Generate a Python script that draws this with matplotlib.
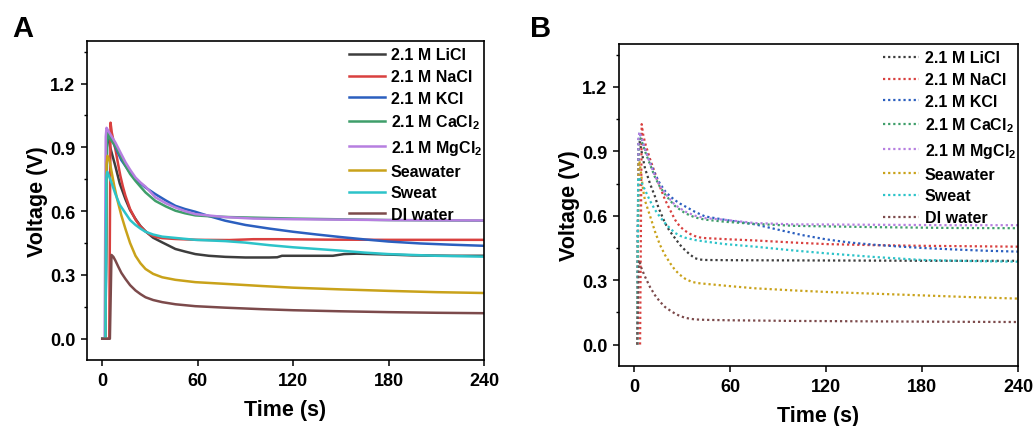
"""
Voltage decay curves for different electrolytes: panel A (measured, solid)
and panel B (fitted/simulated, dotted). Saves out.png.
"""

import matplotlib.pyplot as plt
from matplotlib.ticker import MultipleLocator, AutoMinorLocator

plt.rcParams["font.family"] = ["Liberation Sans", "DejaVu Sans"]
plt.rcParams["font.weight"] = "bold"
plt.rcParams["mathtext.fontset"] = "custom"
plt.rcParams["mathtext.rm"] = "Liberation Sans:bold"
plt.rcParams["mathtext.bf"] = "Liberation Sans:bold"
plt.rcParams["mathtext.it"] = "Liberation Sans:bold"

labels = ["2.1 M LiCl", "2.1 M NaCl", "2.1 M KCl", r"2.1 M CaCl$_{2}$",
          r"2.1 M MgCl$_{2}$", "Seawater", "Sweat", "DI water"]
colors = ["#3d3d3d", "#d9403f", "#2b5fbf", "#3f9e6a",
          "#b67fe0", "#c9a21a", "#2cc3c9", "#7c4a4b"]

# ---- panel A (measured) ----
a_lic_t = [0, 2, 2.8, 3.5, 5, 8.3, 11, 14.6, 17.5, 20.9, 24, 27.2, 32, 37.7, 42, 46, 52, 58.5, 67, 77.3,
           90, 105, 110, 113, 130, 145, 152, 160, 175, 195, 220, 240]
a_lic_v = [0, 0, 0.92, 0.96, 0.9, 0.81, 0.73, 0.656, 0.605, 0.563, 0.53, 0.505, 0.475, 0.453, 0.437, 0.422,
           0.41, 0.398, 0.39, 0.385, 0.382, 0.382, 0.383, 0.39, 0.39, 0.39, 0.398, 0.40, 0.397, 0.392, 0.39, 0.39]
a_nac_t = [0, 4.4, 5.2, 6, 7.3, 8.3, 10, 11.4, 13, 14.6, 17.5, 20.9, 24, 27.2, 30, 33.4, 37.7, 46, 60, 80,
           95, 110, 140, 180, 240]
a_nac_v = [0, 0, 1.016, 0.97, 0.922, 0.89, 0.82, 0.766, 0.715, 0.672, 0.61, 0.56, 0.528, 0.505, 0.49, 0.479,
           0.473, 0.469, 0.465, 0.464, 0.468, 0.468, 0.466, 0.465, 0.465]
a_kcl_t = [0, 2, 3, 3.6, 5, 8.3, 12, 16.7, 21, 27.2, 33.4, 40, 46, 52, 58.5, 67, 77.3, 90, 105, 120, 135,
           150, 165, 180, 200, 220, 240]
a_kcl_v = [0, 0, 0.92, 0.97, 0.95, 0.9, 0.84, 0.789, 0.75, 0.711, 0.68, 0.65, 0.625, 0.61, 0.597, 0.577,
           0.555, 0.535, 0.518, 0.503, 0.49, 0.478, 0.467, 0.457, 0.448, 0.442, 0.437]
a_cac_t = [0, 2, 3, 3.6, 5, 8.3, 11.5, 14.6, 17.5, 20.9, 24, 27.2, 33.4, 40, 46, 52, 58.5, 67, 80, 120,
           180, 240]
a_cac_v = [0, 0, 0.92, 0.965, 0.94, 0.906, 0.86, 0.813, 0.775, 0.742, 0.715, 0.688, 0.648, 0.622, 0.602,
           0.59, 0.58, 0.576, 0.572, 0.565, 0.558, 0.555]
a_mgc_t = [0, 1.5, 2.2, 2.7, 4, 6, 8.3, 11.5, 14.6, 17.5, 20.9, 24, 27.2, 33.4, 40, 46, 52, 58.5, 69, 77.3,
           95, 120, 150, 180, 210, 240]
a_mgc_v = [0, 0, 0.95, 0.992, 0.975, 0.95, 0.922, 0.875, 0.83, 0.795, 0.758, 0.735, 0.715, 0.665, 0.637,
           0.617, 0.6, 0.586, 0.578, 0.572, 0.565, 0.562, 0.56, 0.558, 0.557, 0.556]
a_sea_t = [0, 2, 2.7, 3.3, 4.5, 6, 7.5, 9.4, 12, 14.6, 17.5, 20.9, 24, 27.2, 32, 37.7, 46, 58.5, 77.3, 100,
           120, 150, 180, 210, 240]
a_sea_v = [0, 0, 0.82, 0.86, 0.84, 0.78, 0.72, 0.656, 0.58, 0.516, 0.45, 0.39, 0.355, 0.328, 0.305, 0.289,
           0.277, 0.266, 0.258, 0.248, 0.24, 0.232, 0.225, 0.219, 0.215]
a_swe_t = [0, 2, 2.6, 3.2, 4.5, 6, 8.3, 11, 14.6, 17.5, 20.9, 24, 27.2, 32, 37.7, 46, 58.5, 77.3, 90, 105,
           120, 135, 150, 165, 180, 210, 240]
a_swe_v = [0, 0, 0.76, 0.785, 0.76, 0.73, 0.68, 0.63, 0.59, 0.558, 0.535, 0.518, 0.503, 0.49, 0.48, 0.474,
           0.465, 0.459, 0.452, 0.44, 0.43, 0.422, 0.414, 0.405, 0.398, 0.39, 0.386]
a_diw_t = [0, 4.8, 5.8, 7, 8.3, 10, 12, 14.6, 17.5, 20.9, 24, 27.2, 32, 37.7, 46, 58.5, 77.3, 100, 120, 150,
           180, 210, 240]
a_diw_v = [0, 0, 0.394, 0.385, 0.367, 0.34, 0.31, 0.281, 0.252, 0.227, 0.21, 0.195, 0.182, 0.172, 0.162,
           0.153, 0.146, 0.139, 0.134, 0.129, 0.125, 0.122, 0.12]

# ---- panel B (dotted) ----
b_lic_t = [1.8, 2.6, 3.2, 4.5, 6.7, 9.8, 12.9, 15, 19.2, 22, 25.5, 28.5, 31.7, 35, 38, 41, 44.2, 60, 100,
           150, 200, 240]
b_lic_v = [0, 0.9, 0.95, 0.9, 0.82, 0.75, 0.69, 0.64, 0.566, 0.53, 0.495, 0.465, 0.44, 0.418, 0.402, 0.396,
           0.394, 0.393, 0.392, 0.391, 0.39, 0.39]
b_nac_t = [3.6, 4.6, 5.5, 6.7, 9.8, 12.9, 16, 19.2, 22.5, 25.5, 28.5, 31.7, 35, 38, 41, 44.2, 60, 75.5, 100,
           120, 150, 180, 210, 240]
b_nac_v = [0, 1.027, 0.98, 0.94, 0.865, 0.8, 0.735, 0.675, 0.625, 0.581, 0.55, 0.53, 0.515, 0.505, 0.499,
           0.496, 0.49, 0.485, 0.475, 0.468, 0.463, 0.46, 0.458, 0.456]
b_kcl_t = [1.8, 2.6, 3.2, 4.5, 6.7, 9.8, 12.9, 16, 19.2, 22.5, 25.5, 28.5, 31.7, 38, 44.2, 56.7, 75.5, 90,
           105, 120, 135, 150, 165, 180, 200, 220, 240]
b_kcl_v = [0, 0.95, 0.99, 0.96, 0.91, 0.85, 0.795, 0.75, 0.715, 0.69, 0.672, 0.657, 0.644, 0.618, 0.597,
           0.581, 0.56, 0.535, 0.51, 0.49, 0.475, 0.465, 0.457, 0.45, 0.443, 0.437, 0.433]
b_cac_t = [1.8, 2.6, 3.2, 4.5, 6.7, 9.8, 12.9, 16, 19.2, 22.5, 25.5, 31.7, 38, 44.2, 56.7, 75.5, 100, 150,
           200, 240]
b_cac_v = [0, 0.94, 0.97, 0.95, 0.9, 0.84, 0.78, 0.735, 0.7, 0.67, 0.645, 0.612, 0.592, 0.582, 0.572,
           0.562, 0.553, 0.547, 0.543, 0.542]
b_mgc_t = [1.8, 2.6, 3.2, 4.5, 6.7, 9.8, 12.9, 16, 19.2, 22.5, 25.5, 31.7, 38, 44.2, 56.7, 75.5, 100, 150,
           200, 240]
b_mgc_v = [0, 0.96, 0.99, 0.965, 0.909, 0.845, 0.785, 0.74, 0.706, 0.675, 0.65, 0.62, 0.6, 0.589, 0.581,
           0.566, 0.56, 0.558, 0.556, 0.556]
b_sea_t = [1.8, 2.6, 3.2, 4.5, 5.5, 6.7, 9.8, 12.9, 16, 19.2, 22.5, 25.5, 28.5, 31.7, 35.9, 40, 44.2, 60,
           75.5, 100, 120, 150, 180, 210, 240]
b_sea_v = [0, 0.84, 0.855, 0.78, 0.72, 0.67, 0.6, 0.527, 0.465, 0.417, 0.378, 0.347, 0.325, 0.307, 0.292,
           0.286, 0.283, 0.272, 0.262, 0.252, 0.245, 0.237, 0.229, 0.221, 0.214]
b_swe_t = [1.8, 2.4, 2.9, 4.5, 6.7, 9.8, 12.9, 16, 19.2, 22.5, 25.5, 28.5, 31.7, 38, 44.2, 56.7, 75.5, 100,
           120, 150, 180, 210, 240]
b_swe_v = [0, 0.77, 0.78, 0.755, 0.72, 0.67, 0.628, 0.595, 0.566, 0.54, 0.52, 0.507, 0.498, 0.487, 0.48,
           0.468, 0.456, 0.438, 0.425, 0.408, 0.394, 0.389, 0.386]
b_diw_t = [1.8, 2.9, 4.5, 6.7, 9.8, 12.9, 16, 19.2, 22.5, 25.5, 28.5, 31.7, 35, 38, 44.2, 60, 100, 150, 200,
           240]
b_diw_v = [0, 0.394, 0.355, 0.316, 0.268, 0.23, 0.2, 0.175, 0.158, 0.144, 0.133, 0.125, 0.12, 0.117, 0.115,
           0.113, 0.11, 0.108, 0.106, 0.105]

a_series = [(a_lic_t, a_lic_v), (a_nac_t, a_nac_v), (a_kcl_t, a_kcl_v), (a_cac_t, a_cac_v),
            (a_mgc_t, a_mgc_v), (a_sea_t, a_sea_v), (a_swe_t, a_swe_v), (a_diw_t, a_diw_v)]
b_series = [(b_lic_t, b_lic_v), (b_nac_t, b_nac_v), (b_kcl_t, b_kcl_v), (b_cac_t, b_cac_v),
            (b_mgc_t, b_mgc_v), (b_sea_t, b_sea_v), (b_swe_t, b_swe_v), (b_diw_t, b_diw_v)]


def style_axes(ax):
    ax.set_xlim(-9.6, 240)
    ax.set_ylim(-0.1, 1.4)
    ax.xaxis.set_major_locator(MultipleLocator(60))
    ax.yaxis.set_major_locator(MultipleLocator(0.3))
    ax.yaxis.set_minor_locator(AutoMinorLocator(2))
    ax.yaxis.set_major_formatter(plt.FuncFormatter(lambda v, _: f"{v:.1f}"))
    ax.tick_params(axis="both", which="major", direction="out", length=4.5, width=1.1,
                   labelsize=13, pad=4)
    ax.tick_params(axis="y", which="minor", direction="out", length=2.5, width=1.0)
    for s in ax.spines.values():
        s.set_linewidth(1.2)
    ax.set_xlabel("Time (s)", fontsize=15.5, fontweight="bold", labelpad=7)
    ax.set_ylabel("Voltage (V)", fontsize=15.5, fontweight="bold", labelpad=1.5)


fig = plt.figure(figsize=(10.33, 4.27), dpi=100)
ax_a = fig.add_axes([0.0842, 0.1546, 0.3843, 0.747])
ax_b = fig.add_axes([0.5992, 0.1405, 0.3863, 0.754])

for (t, v), lab, col in zip(a_series, labels, colors):
    ax_a.plot(t, v, color=col, lw=1.8, label=lab)
for (t, v), lab, col in zip(b_series, labels, colors):
    ax_b.plot(t, v, color=col, lw=1.6, ls=(0, (1, 1.3)), label=lab)

for ax in (ax_a, ax_b):
    style_axes(ax)
    ax.legend(loc="upper right", bbox_to_anchor=(1.012, 1.0), frameon=False,
              fontsize=11.5, handlelength=2.3, handletextpad=0.35, labelspacing=0.42,
              borderaxespad=0)

fig.text(0.0116, 0.913, "A", fontsize=21, fontweight="bold")
fig.text(0.513, 0.913, "B", fontsize=21, fontweight="bold")

fig.savefig("out.png", dpi=100)
plt.close(fig)
